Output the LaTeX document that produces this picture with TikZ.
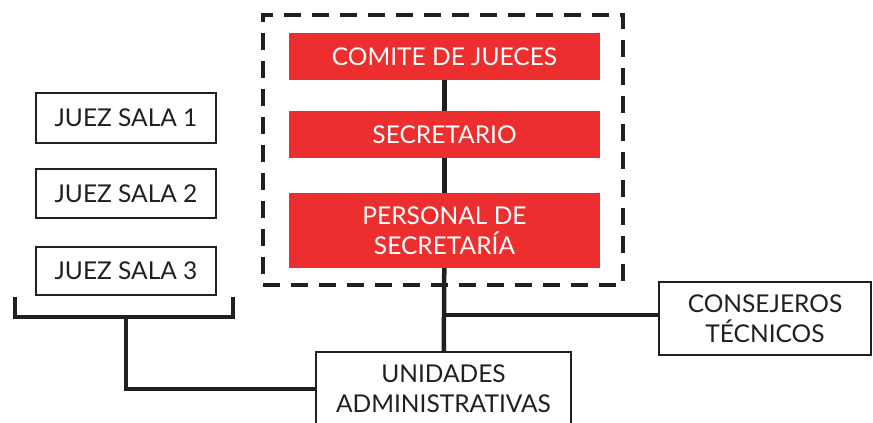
\documentclass[tikz,border=0pt]{standalone}
\usepackage{fontspec}
\setmainfont{Lato}
\definecolor{redfill}{RGB}{237,46,46}
\definecolor{ink}{RGB}{35,31,32}
\begin{document}
\begin{tikzpicture}[x=1pt,y=-1pt,
  font=\fontsize{24.5}{30}\selectfont,
  redbox/.style={fill=redfill,text=white,inner sep=0pt,align=center,minimum width=311pt},
  whitebox/.style={draw=ink,line width=1.8pt,fill=white,text=ink,inner sep=0pt,align=center},
  link/.style={draw=ink,line width=4.5pt},
  groupbox/.style={draw=ink,line width=4.5pt,dash pattern=on 17pt off 11pt,inner sep=0pt}]
\useasboundingbox (0,0) rectangle (873,423);
\clip (0,0) rectangle (873,423);
% dashed group
\node[groupbox,minimum width=360pt,minimum height=270pt] (group) at (443,150) {};
% red boxes
\node[redbox,minimum height=47pt] (comite) at (444.5,56.5) {COMITE DE JUECES};
\node[redbox,minimum height=47pt] (secretario) at (444.5,134.5) {SECRETARIO};
\node[redbox,minimum height=75pt] (personal) at (444.5,230.5) {PERSONAL DE\\SECRETARÍA};
% white boxes
\node[whitebox,minimum width=180pt,minimum height=50pt] (j1) at (126,118) {JUEZ SALA 1};
\node[whitebox,minimum width=180pt,minimum height=49pt] (j2) at (126,193.5) {JUEZ SALA 2};
\node[whitebox,minimum width=180pt,minimum height=48pt] (j3) at (126,271) {JUEZ SALA 3};
\node[whitebox,minimum width=212pt,minimum height=73pt] (consejeros) at (765,318.5) {CONSEJEROS\\TÉCNICOS};
\node[whitebox,minimum width=255pt,minimum height=100pt,text depth=0pt] (unidades) at (443.5,402) {};
\node[text=ink,align=center,inner sep=0pt] (unitext) at (443.5,389) {UNIDADES\\ADMINISTRATIVAS};
% connectors
\draw[link] (comite) -- (secretario);
\draw[link] (secretario) -- (personal);
\draw[link] (personal) -- (unidades);
\coordinate (tee) at (444,315);
\draw[link] (tee) -- (tee -| consejeros.west);
% bracket
\coordinate (bl) at (15,297);
\coordinate (br) at (233,297);
\coordinate (bmid) at (126,317);
\draw[link] (bl) -- (15,317) -- (233,317) -- (br);
\draw[link] (bmid) |- (unidades.west |- 0,389);
\end{tikzpicture}
\end{document}
